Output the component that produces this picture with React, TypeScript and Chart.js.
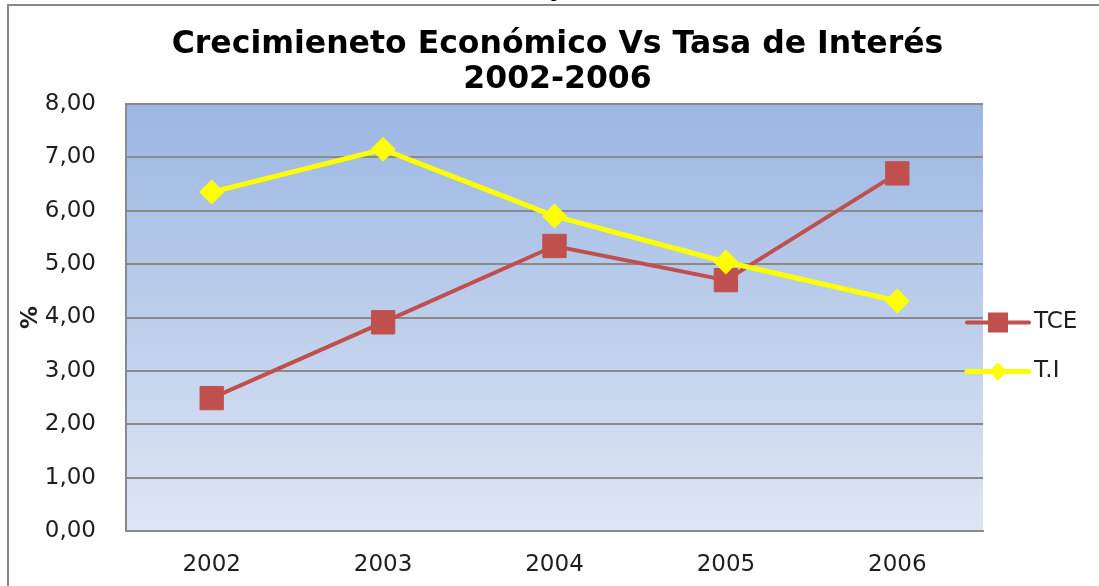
import React, { useEffect, useRef } from "react";
import { Chart, registerables } from "chart.js";

Chart.register(...registerables);

// ---- data ----
const years: string[] = ["2002", "2003", "2004", "2005", "2006"];
const tceValues: number[] = [2.49, 3.91, 5.34, 4.7, 6.7];
const tiValues: number[] = [6.35, 7.15, 5.9, 5.04, 4.31];
const seriesNames: string[] = ["TCE", "T.I"];
const titleLines: string[] = ["Crecimieneto Económico Vs Tasa de Interés", "2002-2006"];
const yAxisTitle = "%";
const yMin = 0;
const yMax = 8;
const yStep = 1;

const RED = "#C0504D";
const YELLOW = "#FFFF00";
const GRID = "#8a8a8a";
const TEXT = "#1e1e1e";
const FONT = "'DejaVu Sans', sans-serif";

const plotBackground = {
  id: "plotBackground",
  beforeDraw(chart: any) {
    const { ctx, chartArea: a } = chart;
    const g = ctx.createLinearGradient(0, a.top, 0, a.bottom);
    g.addColorStop(0, "#9bb7e3");
    g.addColorStop(1, "#dfe6f4");
    ctx.save();
    ctx.fillStyle = g;
    ctx.fillRect(a.left, a.top, a.right - a.left, a.bottom - a.top);
    ctx.restore();
  },
};

const chartTitle = {
  id: "chartTitle",
  afterDraw(chart: any) {
    const { ctx, chartArea: a } = chart;
    const cx = (a.left + a.right) / 2 + 3;
    ctx.save();
    ctx.fillStyle = "#000";
    ctx.font = `bold 31.5px ${FONT}`;
    ctx.textAlign = "center";
    ctx.textBaseline = "middle";
    titleLines.forEach((line, i) => {
      ctx.fillText(line, cx, a.top - 59 + i * 35);
    });
    ctx.restore();
  },
};

const sideLegend = {
  id: "sideLegend",
  afterDraw(chart: any) {
    const { ctx, chartArea: a } = chart;
    const cy = (a.top + a.bottom) / 2 + 5;
    ctx.save();
    chart.data.datasets.forEach((ds: any, i: number) => {
      const y = cy + i * 49;
      const x0 = a.right - 16;
      const x1 = a.right + 46;
      const mx = a.right + 15;
      ctx.strokeStyle = ds.borderColor;
      ctx.lineWidth = ds.borderWidth;
      ctx.lineCap = "round";
      ctx.beginPath();
      ctx.moveTo(x0, y);
      ctx.lineTo(x1, y);
      ctx.stroke();
      ctx.fillStyle = ds.pointBackgroundColor;
      if (ds.pointStyle === "rect") {
        ctx.fillRect(mx - 10, y - 10, 20, 20);
      } else {
        const r = 9;
        ctx.beginPath();
        ctx.moveTo(mx, y - r);
        ctx.lineTo(mx + r, y);
        ctx.lineTo(mx, y + r);
        ctx.lineTo(mx - r, y);
        ctx.closePath();
        ctx.fill();
      }
      ctx.fillStyle = TEXT;
      ctx.font = `23px ${FONT}`;
      ctx.textAlign = "left";
      ctx.textBaseline = "middle";
      ctx.fillText(ds.label, a.right + 51, y);
    });
    ctx.restore();
  },
};

export default function App() {
  const canvasRef = useRef<HTMLCanvasElement | null>(null);

  useEffect(() => {
    if (!canvasRef.current) return;
    const chart = new Chart(canvasRef.current, {
      type: "line",
      data: {
        labels: years,
        datasets: [
          {
            label: seriesNames[0],
            data: tceValues,
            borderColor: RED,
            backgroundColor: RED,
            borderWidth: 4,
            pointStyle: "rect",
            pointRadius: 16.5,
            pointBackgroundColor: RED,
            pointBorderColor: RED,
            pointBorderWidth: 1,
            tension: 0,
            order: 1,
          },
          {
            label: seriesNames[1],
            data: tiValues,
            borderColor: YELLOW,
            backgroundColor: YELLOW,
            borderWidth: 5,
            pointStyle: "rectRot",
            pointRadius: 12.5,
            pointBackgroundColor: YELLOW,
            pointBorderColor: YELLOW,
            pointBorderWidth: 0,
            tension: 0,
            order: 0,
          },
        ],
      },
      options: {
        responsive: false,
        animation: false,
        devicePixelRatio: 1,
        layout: { padding: { left: 8, right: 116, top: 104, bottom: 0 } },
        plugins: {
          legend: { display: false },
          tooltip: { enabled: false },
          title: { display: false },
        },
        scales: {
          x: {
            offset: true,
            grid: { display: false, drawTicks: false },
            border: { display: true, color: GRID, width: 2 },
            ticks: {
              color: TEXT,
              font: { family: FONT, size: 23 },
              padding: 20,
            },
            afterFit(scale: any) {
              scale.height = 109;
            },
          },
          y: {
            min: yMin,
            max: yMax,
            ticks: {
              stepSize: yStep,
              color: TEXT,
              font: { family: FONT, size: 23 },
              padding: 30,
              callback: (v: any) => Number(v).toFixed(2).replace(".", ","),
            },
            grid: { color: GRID, lineWidth: 2, drawTicks: false },
            border: { display: true, color: GRID, width: 2 },
            title: {
              display: true,
              text: yAxisTitle,
              color: TEXT,
              font: { family: FONT, size: 23, weight: "bold" },
              padding: { top: 9, bottom: 0 },
            },
            afterFit(scale: any) {
              scale.width = 118;
            },
          },
        },
      },
      plugins: [plotBackground, chartTitle, sideLegend],
    });
    return () => chart.destroy();
  }, []);

  return (
    <div
      style={{
        position: "fixed",
        left: 0,
        top: 0,
        width: 1099,
        height: 586,
        overflow: "hidden",
        background: "#fff",
      }}
    >
      <div
        style={{
          position: "absolute",
          left: 549,
          top: -24,
          font: `bold 24px ${FONT}`,
          color: "#000",
          lineHeight: "24px",
        }}
      >
        y
      </div>
      <div
        style={{
          position: "absolute",
          left: 7,
          top: 4,
          width: 1092,
          height: 2,
          background: "#888",
        }}
      />
      <div
        style={{
          position: "absolute",
          left: 7,
          top: 4,
          width: 2,
          height: 582,
          background: "#888",
        }}
      />
      <canvas
        ref={canvasRef}
        width={1099}
        height={640}
        style={{ position: "absolute", left: 0, top: 0, width: 1099, height: 640 }}
      />
    </div>
  );
}
